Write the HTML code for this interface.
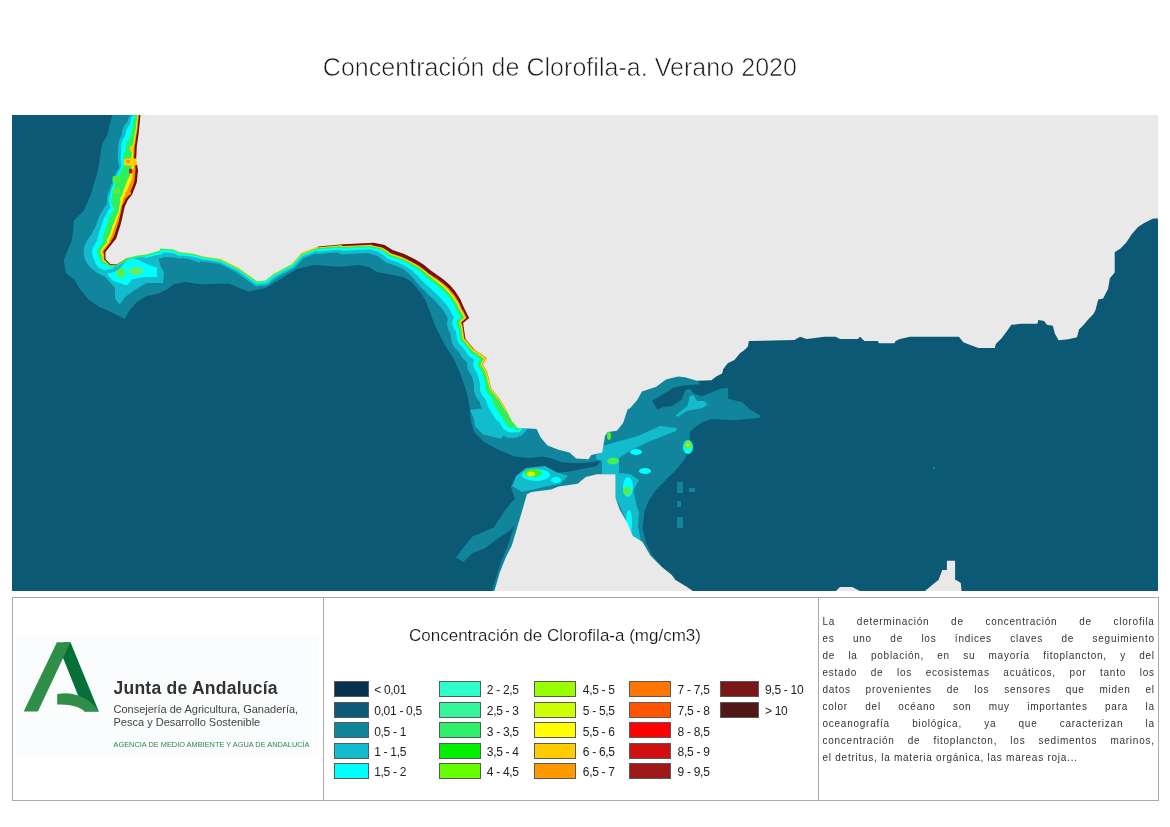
<!DOCTYPE html>
<html><head><meta charset="utf-8">
<style>
html,body{margin:0;padding:0;background:#fff;}
.txt{position:absolute;left:0;top:0;width:1170px;height:827px;will-change:transform;}
body{width:1170px;height:827px;position:relative;overflow:hidden;font-family:"Liberation Sans",sans-serif;-webkit-font-smoothing:antialiased;}
.t{will-change:transform;}
.title{position:absolute;left:322.8px;letter-spacing:0.04px;top:54.6px;font-size:25px;line-height:25px;color:#1a1a1a;white-space:nowrap;-webkit-text-stroke:0.6px #fff;}
#map{position:absolute;left:12px;top:115px;width:1146px;height:476px;}
.box{position:absolute;left:12px;top:597px;width:1145px;height:202px;border:1px solid #a9a9a9;}
.div1{position:absolute;left:323px;top:597px;width:1px;height:203px;background:#a9a9a9;}
.div2{position:absolute;left:818px;top:597px;width:1px;height:203px;background:#a9a9a9;}
.ltitle{position:absolute;left:409px;top:626.9px;font-size:17px;line-height:17px;color:#111;white-space:nowrap;-webkit-text-stroke:0.2px #fff;}
.sw{position:absolute;height:13.5px;border:1px solid #5a5a5a;box-sizing:content-box;}
.lb{position:absolute;font-size:12px;line-height:12px;letter-spacing:-0.3px;color:#222;white-space:nowrap;}
.pl{position:absolute;left:822.5px;width:331.5px;font-size:10px;line-height:10px;letter-spacing:0.75px;color:#333;display:flex;justify-content:space-between;white-space:nowrap;}
.pl span:last-child{margin-right:-0.75px;}
.pl.last{display:block;}
.jt{position:absolute;left:113.5px;top:679.6px;font-size:17.5px;line-height:17.5px;letter-spacing:0.25px;font-weight:bold;color:#333;white-space:nowrap;}
.cs{position:absolute;left:113.5px;font-size:11px;line-height:11px;color:#444;white-space:nowrap;}
.ag{position:absolute;left:113.5px;top:740.5px;font-size:7.4px;line-height:7.4px;color:#2f8552;white-space:nowrap;}
</style></head><body>
<div class="txt"><div class="title">Concentración de Clorofila-a. Verano 2020</div>
<svg id="map" width="1146" height="476" viewBox="0 0 1146 476">
<rect x="0" y="0" width="1146" height="476" fill="#0b5975"/>
<polygon points="100.6,0.0 98.2,7.0 95.7,19.0 90.9,27.7 89.7,31.3 86.0,55.5 82.4,67.6 78.8,79.7 76.5,85.0 72.2,95.0 61.9,105.5 60.0,125.0 56.4,133.4 51.6,145.3 54.0,158.5 62.4,164.5 67.1,172.9 76.7,184.8 87.5,192.0 98.3,196.8 107.8,201.6 112.6,204.0 117.4,195.6 124.6,187.2 134.2,181.2 146.1,178.8 155.7,174.1 161.7,169.3 173.6,166.9 188.0,169.3 208.9,168.8 217.5,168.8 229.5,173.9 236.5,176.5 253.6,173.1 270.7,162.9 284.4,154.3 301.5,150.0 327.1,151.8 347.7,150.0 357.9,152.6 364.8,156.9 381.8,160.3 391.0,162.0 399.0,166.3 409.2,178.2 414.1,186.4 422.8,210.3 431.5,227.7 442.4,245.1 449.0,260.4 455.5,280.0 458.0,295.0 459.0,306.0 462.0,317.0 471.2,326.5 478.0,345.0 488.0,365.0 498.3,370.1 502.8,383.7 493.7,394.3 481.7,412.4 460.5,421.5 453.0,430.5 443.9,442.6 451.4,447.1 460.5,438.1 472.6,433.5 484.7,424.5 498.3,415.4 502.8,409.4 496.0,430.0 488.0,450.0 480.0,476.0 548.0,476.0 588.0,365.0 628.0,445.0 649.9,452.1 640.3,440.5 634.4,428.9 630.6,413.4 632.5,396.0 636.4,386.3 644.1,374.7 653.8,365.0 665.4,353.4 673.2,343.7 677.8,325.0 677.8,317.2 682.6,312.4 689.8,307.6 699.4,304.1 722.1,305.3 735.3,304.1 747.2,302.9 748.4,300.5 737.7,294.5 730.5,287.3 716.1,283.7 716.1,273.0 708.0,269.0 688.0,269.0 685.0,265.0 678.0,255.0 638.0,185.0 438.0,85.0 188.0,35.0 138.0,0.0" fill="#11859b" />
<polygon points="457.6,305.9 461.7,316.9 471.2,326.5 486.3,334.7 502.7,341.5 516.4,342.9 530.1,341.5 538.3,342.9 550.6,347.6 564.2,348.3 577.9,347.6 588.9,345.6 584.8,351.1 571.1,353.8 557.4,356.5 543.7,357.9 532.8,352.4 521.8,352.4 509.5,357.9 502.7,366.1 498.6,371.6 493.0,377.0 458.0,365.0 448.0,325.0" fill="#0b5975" />
<polygon points="685.0,269.4 670.6,270.6 661.1,273.0 651.5,278.9 640.1,286.1 645.5,294.5 651.5,292.1 659.9,290.9 663.5,288.5 669.5,284.9 673.0,275.3 677.8,274.1 682.6,278.9 689.8,281.3 701.8,276.5 708.9,273.5 716.1,273.0 716.1,268.0 698.0,268.0" fill="#0b5975" />
<polygon points="76.7,125.0 73.1,140.6 77.9,148.9 83.9,157.3 93.5,162.1 103.0,172.9 103.0,183.6 107.8,189.6 112.6,182.4 122.2,175.3 134.2,168.1 150.9,168.1 152.1,157.3 148.5,151.3 146.1,141.8 173.6,143.0 188.0,147.7 188.0,115.0 98.0,115.0" fill="#13bccd" />
<polygon points="83.9,125.0 81.5,138.2 85.1,148.9 92.3,156.1 100.7,165.7 107.8,168.1 115.0,170.5 119.8,164.5 131.8,162.1 144.9,162.1 144.9,152.5 138.9,150.7 127.0,145.3 127.0,135.0 98.0,120.0" fill="#00ffff" />
<polygon points="458.0,295.0 461.7,303.2 463.0,311.4 471.2,319.6 489.0,323.7 493.1,318.2 502.7,314.1 498.0,290.0" fill="#13bccd" />
<polygon points="476.0,295.0 480.0,309.0 488.0,315.5 502.7,315.0 496.0,290.0" fill="#00ffff" />
<polygon points="584.0,340.0 588.0,334.0 591.0,331.0 604.0,327.0 626.0,321.0 648.0,311.0 665.0,313.0 664.0,316.0 636.0,327.0 619.0,335.0 607.0,343.0 607.0,358.0 618.0,359.0 627.0,365.0 621.5,375.0 624.4,390.0 627.0,397.0 626.0,412.0 629.0,426.0 638.0,440.0 628.0,441.0 615.0,407.0 603.5,382.0 603.5,359.0 590.0,359.0 590.0,346.0 584.0,344.0" fill="#13bccd" />
<polygon points="663.5,300.5 675.4,290.9 677.8,281.3 681.4,280.1 685.0,286.1 692.2,286.1 695.8,289.7 689.8,293.3 675.4,295.7 665.9,301.7" fill="#13bccd" />
<polygon points="500.0,371.0 504.0,361.0 514.0,353.0 533.0,351.0 544.0,357.0 556.0,361.0 548.0,369.0 536.0,371.0 523.0,374.0 510.0,377.0" fill="#13bccd" />
<rect x="665" y="367" width="6" height="11" fill="#11859b"/>
<rect x="665" y="386" width="4" height="6" fill="#11859b"/>
<rect x="665" y="402" width="6" height="11" fill="#11859b"/>
<rect x="677" y="373" width="6" height="4" fill="#11859b"/>
<rect x="921" y="352" width="2" height="2" fill="#11859b"/>
<ellipse cx="109" cy="158" rx="5" ry="5" fill="#55ee55"/>
<ellipse cx="124" cy="156" rx="7" ry="4" fill="#66ee66"/>
<ellipse cx="524" cy="360" rx="14" ry="6" fill="#00ffff"/>
<ellipse cx="521" cy="358" rx="9" ry="4" fill="#44ee22"/>
<ellipse cx="519" cy="359" rx="4" ry="2.5" fill="#ddee00"/>
<ellipse cx="544" cy="365" rx="5" ry="3" fill="#00ffff"/>
<ellipse cx="624" cy="337" rx="6" ry="3" fill="#00ffff"/>
<ellipse cx="633" cy="356" rx="6" ry="3" fill="#00ffff"/>
<ellipse cx="616" cy="372" rx="5" ry="10" fill="#00ffff"/>
<ellipse cx="617" cy="408" rx="3" ry="13" fill="#00ffff"/>
<ellipse cx="601" cy="346" rx="6" ry="3.5" fill="#44ee55"/>
<ellipse cx="615" cy="376" rx="4" ry="4" fill="#55ee44"/>
<ellipse cx="676" cy="332" rx="5" ry="7" fill="#00ffff"/>
<ellipse cx="676" cy="330" rx="3.5" ry="4" fill="#66ee22"/>
<ellipse cx="676" cy="330" rx="1.5" ry="1.5" fill="#ffee00"/>
<ellipse cx="493" cy="301" rx="4" ry="5" fill="#33ee33"/>
<ellipse cx="597" cy="321" rx="2" ry="4" fill="#55ee22"/>
<line x1="128.4" y1="0.0" x2="127.8" y2="7.0" stroke="#13bccd" stroke-width="18.6" stroke-linecap="round"/>
<line x1="127.8" y1="7.0" x2="126.6" y2="19.0" stroke="#13bccd" stroke-width="23.9" stroke-linecap="round"/>
<line x1="126.6" y1="19.0" x2="124.8" y2="31.3" stroke="#13bccd" stroke-width="33.3" stroke-linecap="round"/>
<line x1="124.8" y1="31.3" x2="124.2" y2="43.4" stroke="#13bccd" stroke-width="37.0" stroke-linecap="round"/>
<line x1="124.2" y1="43.4" x2="126.0" y2="55.5" stroke="#13bccd" stroke-width="33.3" stroke-linecap="round"/>
<line x1="126.0" y1="55.5" x2="124.8" y2="67.6" stroke="#13bccd" stroke-width="38.3" stroke-linecap="round"/>
<line x1="124.8" y1="67.6" x2="120.0" y2="79.7" stroke="#13bccd" stroke-width="46.0" stroke-linecap="round"/>
<line x1="120.0" y1="79.7" x2="115.8" y2="85.0" stroke="#13bccd" stroke-width="42.0" stroke-linecap="round"/>
<line x1="115.8" y1="85.0" x2="112.7" y2="91.8" stroke="#13bccd" stroke-width="34.0" stroke-linecap="round"/>
<line x1="112.7" y1="91.8" x2="110.0" y2="104.0" stroke="#13bccd" stroke-width="35.0" stroke-linecap="round"/>
<line x1="110.0" y1="104.0" x2="108.3" y2="110.8" stroke="#13bccd" stroke-width="42.3" stroke-linecap="round"/>
<line x1="108.3" y1="110.8" x2="104.2" y2="123.4" stroke="#13bccd" stroke-width="46.3" stroke-linecap="round"/>
<line x1="104.2" y1="123.4" x2="101.8" y2="126.5" stroke="#13bccd" stroke-width="46.5" stroke-linecap="round"/>
<line x1="101.8" y1="126.5" x2="93.5" y2="137.0" stroke="#13bccd" stroke-width="43.5" stroke-linecap="round"/>
<line x1="93.5" y1="137.0" x2="93.5" y2="144.1" stroke="#13bccd" stroke-width="21.0" stroke-linecap="round"/>
<line x1="115.0" y1="143.0" x2="125.8" y2="140.6" stroke="#13bccd" stroke-width="2.7" stroke-linecap="round"/>
<line x1="125.8" y1="140.6" x2="134.2" y2="139.4" stroke="#13bccd" stroke-width="8.0" stroke-linecap="round"/>
<line x1="134.2" y1="139.4" x2="147.3" y2="135.8" stroke="#13bccd" stroke-width="13.3" stroke-linecap="round"/>
<line x1="147.3" y1="135.8" x2="148.5" y2="133.4" stroke="#13bccd" stroke-width="15.4" stroke-linecap="round"/>
<line x1="148.5" y1="133.4" x2="161.7" y2="134.6" stroke="#13bccd" stroke-width="14.2" stroke-linecap="round"/>
<line x1="161.7" y1="134.6" x2="167.7" y2="137.0" stroke="#13bccd" stroke-width="13.0" stroke-linecap="round"/>
<line x1="167.7" y1="137.0" x2="179.6" y2="138.2" stroke="#13bccd" stroke-width="11.8" stroke-linecap="round"/>
<line x1="179.6" y1="138.2" x2="191.8" y2="141.4" stroke="#13bccd" stroke-width="10.6" stroke-linecap="round"/>
<line x1="191.8" y1="141.4" x2="208.9" y2="144.0" stroke="#13bccd" stroke-width="10.0" stroke-linecap="round"/>
<line x1="208.9" y1="144.0" x2="226.0" y2="152.5" stroke="#13bccd" stroke-width="10.0" stroke-linecap="round"/>
<line x1="226.0" y1="152.5" x2="238.3" y2="161.2" stroke="#13bccd" stroke-width="10.0" stroke-linecap="round"/>
<line x1="238.3" y1="161.2" x2="245.1" y2="166.3" stroke="#13bccd" stroke-width="10.0" stroke-linecap="round"/>
<line x1="245.1" y1="166.3" x2="253.6" y2="165.4" stroke="#13bccd" stroke-width="10.0" stroke-linecap="round"/>
<line x1="253.6" y1="165.4" x2="262.2" y2="158.6" stroke="#13bccd" stroke-width="10.0" stroke-linecap="round"/>
<line x1="262.2" y1="158.6" x2="279.3" y2="149.2" stroke="#13bccd" stroke-width="10.0" stroke-linecap="round"/>
<line x1="279.3" y1="149.2" x2="289.5" y2="138.1" stroke="#13bccd" stroke-width="10.0" stroke-linecap="round"/>
<line x1="289.5" y1="138.1" x2="306.5" y2="131.5" stroke="#13bccd" stroke-width="11.0" stroke-linecap="round"/>
<line x1="306.5" y1="131.5" x2="331.0" y2="129.2" stroke="#13bccd" stroke-width="15.0" stroke-linecap="round"/>
<line x1="331.0" y1="129.2" x2="361.8" y2="127.7" stroke="#13bccd" stroke-width="20.0" stroke-linecap="round"/>
<line x1="361.8" y1="127.7" x2="372.6" y2="130.0" stroke="#13bccd" stroke-width="23.5" stroke-linecap="round"/>
<line x1="372.6" y1="130.0" x2="380.6" y2="135.0" stroke="#13bccd" stroke-width="26.5" stroke-linecap="round"/>
<line x1="380.6" y1="135.0" x2="392.2" y2="138.9" stroke="#13bccd" stroke-width="28.0" stroke-linecap="round"/>
<line x1="392.2" y1="138.9" x2="403.4" y2="144.6" stroke="#13bccd" stroke-width="28.0" stroke-linecap="round"/>
<line x1="403.4" y1="144.6" x2="411.5" y2="149.5" stroke="#13bccd" stroke-width="30.0" stroke-linecap="round"/>
<line x1="411.5" y1="149.5" x2="418.8" y2="155.5" stroke="#13bccd" stroke-width="34.0" stroke-linecap="round"/>
<line x1="418.8" y1="155.5" x2="424.1" y2="159.2" stroke="#13bccd" stroke-width="37.3" stroke-linecap="round"/>
<line x1="424.1" y1="159.2" x2="430.9" y2="164.0" stroke="#13bccd" stroke-width="40.0" stroke-linecap="round"/>
<line x1="430.9" y1="164.0" x2="437.6" y2="169.8" stroke="#13bccd" stroke-width="42.7" stroke-linecap="round"/>
<line x1="437.6" y1="169.8" x2="443.4" y2="176.6" stroke="#13bccd" stroke-width="43.0" stroke-linecap="round"/>
<line x1="443.4" y1="176.6" x2="448.3" y2="184.3" stroke="#13bccd" stroke-width="41.0" stroke-linecap="round"/>
<line x1="448.3" y1="184.3" x2="452.1" y2="193.0" stroke="#13bccd" stroke-width="38.5" stroke-linecap="round"/>
<line x1="452.1" y1="193.0" x2="457.2" y2="203.1" stroke="#13bccd" stroke-width="35.5" stroke-linecap="round"/>
<line x1="457.2" y1="203.1" x2="451.1" y2="208.1" stroke="#13bccd" stroke-width="32.0" stroke-linecap="round"/>
<line x1="451.1" y1="208.1" x2="453.3" y2="223.4" stroke="#13bccd" stroke-width="28.0" stroke-linecap="round"/>
<line x1="453.3" y1="223.4" x2="462.0" y2="234.2" stroke="#13bccd" stroke-width="27.0" stroke-linecap="round"/>
<line x1="462.0" y1="234.2" x2="475.0" y2="243.0" stroke="#13bccd" stroke-width="29.0" stroke-linecap="round"/>
<line x1="475.0" y1="243.0" x2="470.7" y2="249.5" stroke="#13bccd" stroke-width="30.3" stroke-linecap="round"/>
<line x1="470.7" y1="249.5" x2="475.0" y2="256.0" stroke="#13bccd" stroke-width="31.0" stroke-linecap="round"/>
<line x1="475.0" y1="256.0" x2="479.4" y2="273.4" stroke="#13bccd" stroke-width="31.7" stroke-linecap="round"/>
<line x1="479.4" y1="273.4" x2="488.1" y2="284.3" stroke="#13bccd" stroke-width="35.0" stroke-linecap="round"/>
<line x1="488.1" y1="284.3" x2="494.5" y2="295.0" stroke="#13bccd" stroke-width="41.0" stroke-linecap="round"/>
<line x1="494.5" y1="295.0" x2="500.0" y2="306.0" stroke="#13bccd" stroke-width="34.0" stroke-linecap="round"/>
<line x1="500.0" y1="306.0" x2="505.4" y2="312.8" stroke="#13bccd" stroke-width="15.0" stroke-linecap="round"/>
<line x1="128.4" y1="0.0" x2="127.8" y2="7.0" stroke="#00ffff" stroke-width="14.7" stroke-linecap="round"/>
<line x1="127.8" y1="7.0" x2="126.6" y2="19.0" stroke="#00ffff" stroke-width="18.8" stroke-linecap="round"/>
<line x1="126.6" y1="19.0" x2="124.8" y2="31.3" stroke="#00ffff" stroke-width="25.6" stroke-linecap="round"/>
<line x1="124.8" y1="31.3" x2="124.2" y2="43.4" stroke="#00ffff" stroke-width="31.0" stroke-linecap="round"/>
<line x1="124.2" y1="43.4" x2="126.0" y2="55.5" stroke="#00ffff" stroke-width="30.5" stroke-linecap="round"/>
<line x1="126.0" y1="55.5" x2="124.8" y2="67.6" stroke="#00ffff" stroke-width="35.0" stroke-linecap="round"/>
<line x1="124.8" y1="67.6" x2="120.0" y2="79.7" stroke="#00ffff" stroke-width="42.5" stroke-linecap="round"/>
<line x1="120.0" y1="79.7" x2="115.8" y2="85.0" stroke="#00ffff" stroke-width="37.2" stroke-linecap="round"/>
<line x1="115.8" y1="85.0" x2="112.7" y2="91.8" stroke="#00ffff" stroke-width="25.8" stroke-linecap="round"/>
<line x1="112.7" y1="91.8" x2="110.0" y2="104.0" stroke="#00ffff" stroke-width="25.0" stroke-linecap="round"/>
<line x1="110.0" y1="104.0" x2="108.3" y2="110.8" stroke="#00ffff" stroke-width="32.5" stroke-linecap="round"/>
<line x1="108.3" y1="110.8" x2="104.2" y2="123.4" stroke="#00ffff" stroke-width="35.9" stroke-linecap="round"/>
<line x1="104.2" y1="123.4" x2="101.8" y2="126.5" stroke="#00ffff" stroke-width="33.4" stroke-linecap="round"/>
<line x1="101.8" y1="126.5" x2="93.5" y2="137.0" stroke="#00ffff" stroke-width="26.6" stroke-linecap="round"/>
<line x1="93.5" y1="137.0" x2="93.5" y2="144.1" stroke="#00ffff" stroke-width="21.6" stroke-linecap="round"/>
<line x1="93.5" y1="144.1" x2="98.3" y2="148.9" stroke="#00ffff" stroke-width="10.0" stroke-linecap="round"/>
<line x1="115.0" y1="143.0" x2="125.8" y2="140.6" stroke="#00ffff" stroke-width="1.3" stroke-linecap="round"/>
<line x1="125.8" y1="140.6" x2="134.2" y2="139.4" stroke="#00ffff" stroke-width="4.0" stroke-linecap="round"/>
<line x1="134.2" y1="139.4" x2="147.3" y2="135.8" stroke="#00ffff" stroke-width="6.7" stroke-linecap="round"/>
<line x1="147.3" y1="135.8" x2="148.5" y2="133.4" stroke="#00ffff" stroke-width="7.8" stroke-linecap="round"/>
<line x1="148.5" y1="133.4" x2="161.7" y2="134.6" stroke="#00ffff" stroke-width="7.4" stroke-linecap="round"/>
<line x1="161.7" y1="134.6" x2="167.7" y2="137.0" stroke="#00ffff" stroke-width="7.0" stroke-linecap="round"/>
<line x1="167.7" y1="137.0" x2="179.6" y2="138.2" stroke="#00ffff" stroke-width="6.6" stroke-linecap="round"/>
<line x1="179.6" y1="138.2" x2="191.8" y2="141.4" stroke="#00ffff" stroke-width="6.2" stroke-linecap="round"/>
<line x1="191.8" y1="141.4" x2="208.9" y2="144.0" stroke="#00ffff" stroke-width="6.0" stroke-linecap="round"/>
<line x1="208.9" y1="144.0" x2="226.0" y2="152.5" stroke="#00ffff" stroke-width="6.0" stroke-linecap="round"/>
<line x1="226.0" y1="152.5" x2="238.3" y2="161.2" stroke="#00ffff" stroke-width="5.8" stroke-linecap="round"/>
<line x1="238.3" y1="161.2" x2="245.1" y2="166.3" stroke="#00ffff" stroke-width="5.5" stroke-linecap="round"/>
<line x1="245.1" y1="166.3" x2="253.6" y2="165.4" stroke="#00ffff" stroke-width="5.2" stroke-linecap="round"/>
<line x1="253.6" y1="165.4" x2="262.2" y2="158.6" stroke="#00ffff" stroke-width="5.2" stroke-linecap="round"/>
<line x1="262.2" y1="158.6" x2="279.3" y2="149.2" stroke="#00ffff" stroke-width="5.5" stroke-linecap="round"/>
<line x1="279.3" y1="149.2" x2="289.5" y2="138.1" stroke="#00ffff" stroke-width="5.8" stroke-linecap="round"/>
<line x1="289.5" y1="138.1" x2="306.5" y2="131.5" stroke="#00ffff" stroke-width="7.0" stroke-linecap="round"/>
<line x1="306.5" y1="131.5" x2="331.0" y2="129.2" stroke="#00ffff" stroke-width="10.0" stroke-linecap="round"/>
<line x1="331.0" y1="129.2" x2="361.8" y2="127.7" stroke="#00ffff" stroke-width="13.0" stroke-linecap="round"/>
<line x1="361.8" y1="127.7" x2="372.6" y2="130.0" stroke="#00ffff" stroke-width="15.5" stroke-linecap="round"/>
<line x1="372.6" y1="130.0" x2="380.6" y2="135.0" stroke="#00ffff" stroke-width="18.5" stroke-linecap="round"/>
<line x1="380.6" y1="135.0" x2="392.2" y2="138.9" stroke="#00ffff" stroke-width="20.2" stroke-linecap="round"/>
<line x1="392.2" y1="138.9" x2="403.4" y2="144.6" stroke="#00ffff" stroke-width="20.8" stroke-linecap="round"/>
<line x1="403.4" y1="144.6" x2="411.5" y2="149.5" stroke="#00ffff" stroke-width="22.2" stroke-linecap="round"/>
<line x1="411.5" y1="149.5" x2="418.8" y2="155.5" stroke="#00ffff" stroke-width="24.8" stroke-linecap="round"/>
<line x1="418.8" y1="155.5" x2="424.1" y2="159.2" stroke="#00ffff" stroke-width="27.0" stroke-linecap="round"/>
<line x1="424.1" y1="159.2" x2="430.9" y2="164.0" stroke="#00ffff" stroke-width="29.0" stroke-linecap="round"/>
<line x1="430.9" y1="164.0" x2="437.6" y2="169.8" stroke="#00ffff" stroke-width="31.0" stroke-linecap="round"/>
<line x1="437.6" y1="169.8" x2="443.4" y2="176.6" stroke="#00ffff" stroke-width="31.0" stroke-linecap="round"/>
<line x1="443.4" y1="176.6" x2="448.3" y2="184.3" stroke="#00ffff" stroke-width="29.0" stroke-linecap="round"/>
<line x1="448.3" y1="184.3" x2="452.1" y2="193.0" stroke="#00ffff" stroke-width="27.0" stroke-linecap="round"/>
<line x1="452.1" y1="193.0" x2="457.2" y2="203.1" stroke="#00ffff" stroke-width="25.0" stroke-linecap="round"/>
<line x1="457.2" y1="203.1" x2="451.1" y2="208.1" stroke="#00ffff" stroke-width="21.5" stroke-linecap="round"/>
<line x1="451.1" y1="208.1" x2="453.3" y2="223.4" stroke="#00ffff" stroke-width="16.5" stroke-linecap="round"/>
<line x1="453.3" y1="223.4" x2="462.0" y2="234.2" stroke="#00ffff" stroke-width="15.0" stroke-linecap="round"/>
<line x1="462.0" y1="234.2" x2="475.0" y2="243.0" stroke="#00ffff" stroke-width="17.0" stroke-linecap="round"/>
<line x1="475.0" y1="243.0" x2="470.7" y2="249.5" stroke="#00ffff" stroke-width="18.3" stroke-linecap="round"/>
<line x1="470.7" y1="249.5" x2="475.0" y2="256.0" stroke="#00ffff" stroke-width="19.0" stroke-linecap="round"/>
<line x1="475.0" y1="256.0" x2="479.4" y2="273.4" stroke="#00ffff" stroke-width="19.7" stroke-linecap="round"/>
<line x1="479.4" y1="273.4" x2="488.1" y2="284.3" stroke="#00ffff" stroke-width="23.0" stroke-linecap="round"/>
<line x1="488.1" y1="284.3" x2="494.5" y2="295.0" stroke="#00ffff" stroke-width="28.0" stroke-linecap="round"/>
<line x1="494.5" y1="295.0" x2="500.0" y2="306.0" stroke="#00ffff" stroke-width="23.0" stroke-linecap="round"/>
<line x1="500.0" y1="306.0" x2="505.4" y2="312.8" stroke="#00ffff" stroke-width="9.5" stroke-linecap="round"/>
<line x1="128.4" y1="0.0" x2="127.8" y2="7.0" stroke="#2ef05c" stroke-width="10.8" stroke-linecap="round"/>
<line x1="127.8" y1="7.0" x2="126.6" y2="19.0" stroke="#2ef05c" stroke-width="13.1" stroke-linecap="round"/>
<line x1="126.6" y1="19.0" x2="124.8" y2="31.3" stroke="#2ef05c" stroke-width="15.9" stroke-linecap="round"/>
<line x1="124.8" y1="31.3" x2="124.2" y2="43.4" stroke="#2ef05c" stroke-width="21.7" stroke-linecap="round"/>
<line x1="124.2" y1="43.4" x2="126.0" y2="55.5" stroke="#2ef05c" stroke-width="25.4" stroke-linecap="round"/>
<line x1="126.0" y1="55.5" x2="124.8" y2="67.6" stroke="#2ef05c" stroke-width="31.4" stroke-linecap="round"/>
<line x1="124.8" y1="67.6" x2="120.0" y2="79.7" stroke="#2ef05c" stroke-width="39.0" stroke-linecap="round"/>
<line x1="120.0" y1="79.7" x2="115.8" y2="85.0" stroke="#2ef05c" stroke-width="33.0" stroke-linecap="round"/>
<line x1="115.8" y1="85.0" x2="112.7" y2="91.8" stroke="#2ef05c" stroke-width="19.0" stroke-linecap="round"/>
<line x1="112.7" y1="91.8" x2="110.0" y2="104.0" stroke="#2ef05c" stroke-width="17.0" stroke-linecap="round"/>
<line x1="110.0" y1="104.0" x2="108.3" y2="110.8" stroke="#2ef05c" stroke-width="24.6" stroke-linecap="round"/>
<line x1="108.3" y1="110.8" x2="104.2" y2="123.4" stroke="#2ef05c" stroke-width="26.2" stroke-linecap="round"/>
<line x1="104.2" y1="123.4" x2="101.8" y2="126.5" stroke="#2ef05c" stroke-width="22.3" stroke-linecap="round"/>
<line x1="101.8" y1="126.5" x2="93.5" y2="137.0" stroke="#2ef05c" stroke-width="16.5" stroke-linecap="round"/>
<line x1="93.5" y1="137.0" x2="93.5" y2="144.1" stroke="#2ef05c" stroke-width="10.8" stroke-linecap="round"/>
<line x1="93.5" y1="144.1" x2="98.3" y2="148.9" stroke="#2ef05c" stroke-width="6.0" stroke-linecap="round"/>
<line x1="98.3" y1="148.9" x2="104.2" y2="149.5" stroke="#2ef05c" stroke-width="4.0" stroke-linecap="round"/>
<line x1="104.2" y1="149.5" x2="115.0" y2="143.0" stroke="#2ef05c" stroke-width="4.0" stroke-linecap="round"/>
<line x1="115.0" y1="143.0" x2="125.8" y2="140.6" stroke="#2ef05c" stroke-width="3.8" stroke-linecap="round"/>
<line x1="125.8" y1="140.6" x2="134.2" y2="139.4" stroke="#2ef05c" stroke-width="3.5" stroke-linecap="round"/>
<line x1="134.2" y1="139.4" x2="147.3" y2="135.8" stroke="#2ef05c" stroke-width="3.2" stroke-linecap="round"/>
<line x1="147.3" y1="135.8" x2="148.5" y2="133.4" stroke="#2ef05c" stroke-width="3.0" stroke-linecap="round"/>
<line x1="148.5" y1="133.4" x2="161.7" y2="134.6" stroke="#2ef05c" stroke-width="3.0" stroke-linecap="round"/>
<line x1="161.7" y1="134.6" x2="167.7" y2="137.0" stroke="#2ef05c" stroke-width="3.0" stroke-linecap="round"/>
<line x1="167.7" y1="137.0" x2="179.6" y2="138.2" stroke="#2ef05c" stroke-width="3.0" stroke-linecap="round"/>
<line x1="179.6" y1="138.2" x2="191.8" y2="141.4" stroke="#2ef05c" stroke-width="3.0" stroke-linecap="round"/>
<line x1="191.8" y1="141.4" x2="208.9" y2="144.0" stroke="#2ef05c" stroke-width="3.2" stroke-linecap="round"/>
<line x1="208.9" y1="144.0" x2="226.0" y2="152.5" stroke="#2ef05c" stroke-width="3.8" stroke-linecap="round"/>
<line x1="226.0" y1="152.5" x2="238.3" y2="161.2" stroke="#2ef05c" stroke-width="3.7" stroke-linecap="round"/>
<line x1="238.3" y1="161.2" x2="245.1" y2="166.3" stroke="#2ef05c" stroke-width="3.2" stroke-linecap="round"/>
<line x1="245.1" y1="166.3" x2="253.6" y2="165.4" stroke="#2ef05c" stroke-width="2.7" stroke-linecap="round"/>
<line x1="253.6" y1="165.4" x2="262.2" y2="158.6" stroke="#2ef05c" stroke-width="2.7" stroke-linecap="round"/>
<line x1="262.2" y1="158.6" x2="279.3" y2="149.2" stroke="#2ef05c" stroke-width="3.2" stroke-linecap="round"/>
<line x1="279.3" y1="149.2" x2="289.5" y2="138.1" stroke="#2ef05c" stroke-width="3.7" stroke-linecap="round"/>
<line x1="289.5" y1="138.1" x2="306.5" y2="131.5" stroke="#2ef05c" stroke-width="4.5" stroke-linecap="round"/>
<line x1="306.5" y1="131.5" x2="331.0" y2="129.2" stroke="#2ef05c" stroke-width="6.0" stroke-linecap="round"/>
<line x1="331.0" y1="129.2" x2="361.8" y2="127.7" stroke="#2ef05c" stroke-width="8.5" stroke-linecap="round"/>
<line x1="361.8" y1="127.7" x2="372.6" y2="130.0" stroke="#2ef05c" stroke-width="11.0" stroke-linecap="round"/>
<line x1="372.6" y1="130.0" x2="380.6" y2="135.0" stroke="#2ef05c" stroke-width="13.0" stroke-linecap="round"/>
<line x1="380.6" y1="135.0" x2="392.2" y2="138.9" stroke="#2ef05c" stroke-width="14.0" stroke-linecap="round"/>
<line x1="392.2" y1="138.9" x2="403.4" y2="144.6" stroke="#2ef05c" stroke-width="14.0" stroke-linecap="round"/>
<line x1="403.4" y1="144.6" x2="411.5" y2="149.5" stroke="#2ef05c" stroke-width="14.5" stroke-linecap="round"/>
<line x1="411.5" y1="149.5" x2="418.8" y2="155.5" stroke="#2ef05c" stroke-width="15.5" stroke-linecap="round"/>
<line x1="418.8" y1="155.5" x2="424.1" y2="159.2" stroke="#2ef05c" stroke-width="16.3" stroke-linecap="round"/>
<line x1="424.1" y1="159.2" x2="430.9" y2="164.0" stroke="#2ef05c" stroke-width="17.0" stroke-linecap="round"/>
<line x1="430.9" y1="164.0" x2="437.6" y2="169.8" stroke="#2ef05c" stroke-width="17.7" stroke-linecap="round"/>
<line x1="437.6" y1="169.8" x2="443.4" y2="176.6" stroke="#2ef05c" stroke-width="17.5" stroke-linecap="round"/>
<line x1="443.4" y1="176.6" x2="448.3" y2="184.3" stroke="#2ef05c" stroke-width="16.5" stroke-linecap="round"/>
<line x1="448.3" y1="184.3" x2="452.1" y2="193.0" stroke="#2ef05c" stroke-width="15.8" stroke-linecap="round"/>
<line x1="452.1" y1="193.0" x2="457.2" y2="203.1" stroke="#2ef05c" stroke-width="15.2" stroke-linecap="round"/>
<line x1="457.2" y1="203.1" x2="451.1" y2="208.1" stroke="#2ef05c" stroke-width="13.5" stroke-linecap="round"/>
<line x1="451.1" y1="208.1" x2="453.3" y2="223.4" stroke="#2ef05c" stroke-width="10.5" stroke-linecap="round"/>
<line x1="453.3" y1="223.4" x2="462.0" y2="234.2" stroke="#2ef05c" stroke-width="9.2" stroke-linecap="round"/>
<line x1="462.0" y1="234.2" x2="475.0" y2="243.0" stroke="#2ef05c" stroke-width="9.8" stroke-linecap="round"/>
<line x1="475.0" y1="243.0" x2="470.7" y2="249.5" stroke="#2ef05c" stroke-width="10.0" stroke-linecap="round"/>
<line x1="470.7" y1="249.5" x2="475.0" y2="256.0" stroke="#2ef05c" stroke-width="10.0" stroke-linecap="round"/>
<line x1="475.0" y1="256.0" x2="479.4" y2="273.4" stroke="#2ef05c" stroke-width="10.0" stroke-linecap="round"/>
<line x1="479.4" y1="273.4" x2="488.1" y2="284.3" stroke="#2ef05c" stroke-width="12.0" stroke-linecap="round"/>
<line x1="488.1" y1="284.3" x2="494.5" y2="295.0" stroke="#2ef05c" stroke-width="16.0" stroke-linecap="round"/>
<line x1="494.5" y1="295.0" x2="500.0" y2="306.0" stroke="#2ef05c" stroke-width="14.0" stroke-linecap="round"/>
<line x1="500.0" y1="306.0" x2="505.4" y2="312.8" stroke="#2ef05c" stroke-width="5.5" stroke-linecap="round"/>
<line x1="128.4" y1="0.0" x2="127.8" y2="7.0" stroke="#ffee00" stroke-width="6.0" stroke-linecap="round"/>
<line x1="127.8" y1="7.0" x2="126.6" y2="19.0" stroke="#ffee00" stroke-width="6.5" stroke-linecap="round"/>
<line x1="126.6" y1="19.0" x2="124.8" y2="31.3" stroke="#ffee00" stroke-width="7.5" stroke-linecap="round"/>
<line x1="124.8" y1="31.3" x2="124.2" y2="43.4" stroke="#ffee00" stroke-width="9.0" stroke-linecap="round"/>
<line x1="124.2" y1="43.4" x2="126.0" y2="55.5" stroke="#ffee00" stroke-width="10.0" stroke-linecap="round"/>
<line x1="126.0" y1="55.5" x2="124.8" y2="67.6" stroke="#ffee00" stroke-width="15.0" stroke-linecap="round"/>
<line x1="124.8" y1="67.6" x2="120.0" y2="79.7" stroke="#ffee00" stroke-width="19.0" stroke-linecap="round"/>
<line x1="120.0" y1="79.7" x2="115.8" y2="85.0" stroke="#ffee00" stroke-width="15.5" stroke-linecap="round"/>
<line x1="115.8" y1="85.0" x2="112.7" y2="91.8" stroke="#ffee00" stroke-width="10.5" stroke-linecap="round"/>
<line x1="112.7" y1="91.8" x2="110.0" y2="104.0" stroke="#ffee00" stroke-width="10.0" stroke-linecap="round"/>
<line x1="110.0" y1="104.0" x2="108.3" y2="110.8" stroke="#ffee00" stroke-width="12.8" stroke-linecap="round"/>
<line x1="108.3" y1="110.8" x2="104.2" y2="123.4" stroke="#ffee00" stroke-width="14.5" stroke-linecap="round"/>
<line x1="104.2" y1="123.4" x2="101.8" y2="126.5" stroke="#ffee00" stroke-width="13.6" stroke-linecap="round"/>
<line x1="101.8" y1="126.5" x2="93.5" y2="137.0" stroke="#ffee00" stroke-width="9.8" stroke-linecap="round"/>
<line x1="93.5" y1="137.0" x2="93.5" y2="144.1" stroke="#ffee00" stroke-width="6.0" stroke-linecap="round"/>
<line x1="93.5" y1="144.1" x2="98.3" y2="148.9" stroke="#ffee00" stroke-width="3.0" stroke-linecap="round"/>
<line x1="98.3" y1="148.9" x2="104.2" y2="149.5" stroke="#ffee00" stroke-width="1.5" stroke-linecap="round"/>
<line x1="104.2" y1="149.5" x2="115.0" y2="143.0" stroke="#ffee00" stroke-width="0.5" stroke-linecap="round"/>
<line x1="161.7" y1="134.6" x2="167.7" y2="137.0" stroke="#ffee00" stroke-width="0.5" stroke-linecap="round"/>
<line x1="167.7" y1="137.0" x2="179.6" y2="138.2" stroke="#ffee00" stroke-width="0.7" stroke-linecap="round"/>
<line x1="179.6" y1="138.2" x2="191.8" y2="141.4" stroke="#ffee00" stroke-width="0.9" stroke-linecap="round"/>
<line x1="191.8" y1="141.4" x2="208.9" y2="144.0" stroke="#ffee00" stroke-width="1.1" stroke-linecap="round"/>
<line x1="208.9" y1="144.0" x2="226.0" y2="152.5" stroke="#ffee00" stroke-width="1.5" stroke-linecap="round"/>
<line x1="226.0" y1="152.5" x2="238.3" y2="161.2" stroke="#ffee00" stroke-width="1.3" stroke-linecap="round"/>
<line x1="238.3" y1="161.2" x2="245.1" y2="166.3" stroke="#ffee00" stroke-width="0.8" stroke-linecap="round"/>
<line x1="262.2" y1="158.6" x2="279.3" y2="149.2" stroke="#ffee00" stroke-width="0.8" stroke-linecap="round"/>
<line x1="279.3" y1="149.2" x2="289.5" y2="138.1" stroke="#ffee00" stroke-width="1.3" stroke-linecap="round"/>
<line x1="289.5" y1="138.1" x2="306.5" y2="131.5" stroke="#ffee00" stroke-width="2.0" stroke-linecap="round"/>
<line x1="306.5" y1="131.5" x2="331.0" y2="129.2" stroke="#ffee00" stroke-width="3.2" stroke-linecap="round"/>
<line x1="331.0" y1="129.2" x2="361.8" y2="127.7" stroke="#ffee00" stroke-width="5.5" stroke-linecap="round"/>
<line x1="361.8" y1="127.7" x2="372.6" y2="130.0" stroke="#ffee00" stroke-width="7.8" stroke-linecap="round"/>
<line x1="372.6" y1="130.0" x2="380.6" y2="135.0" stroke="#ffee00" stroke-width="9.2" stroke-linecap="round"/>
<line x1="380.6" y1="135.0" x2="392.2" y2="138.9" stroke="#ffee00" stroke-width="10.0" stroke-linecap="round"/>
<line x1="392.2" y1="138.9" x2="403.4" y2="144.6" stroke="#ffee00" stroke-width="10.0" stroke-linecap="round"/>
<line x1="403.4" y1="144.6" x2="411.5" y2="149.5" stroke="#ffee00" stroke-width="10.0" stroke-linecap="round"/>
<line x1="411.5" y1="149.5" x2="418.8" y2="155.5" stroke="#ffee00" stroke-width="10.0" stroke-linecap="round"/>
<line x1="418.8" y1="155.5" x2="424.1" y2="159.2" stroke="#ffee00" stroke-width="10.3" stroke-linecap="round"/>
<line x1="424.1" y1="159.2" x2="430.9" y2="164.0" stroke="#ffee00" stroke-width="11.0" stroke-linecap="round"/>
<line x1="430.9" y1="164.0" x2="437.6" y2="169.8" stroke="#ffee00" stroke-width="11.7" stroke-linecap="round"/>
<line x1="437.6" y1="169.8" x2="443.4" y2="176.6" stroke="#ffee00" stroke-width="11.5" stroke-linecap="round"/>
<line x1="443.4" y1="176.6" x2="448.3" y2="184.3" stroke="#ffee00" stroke-width="10.5" stroke-linecap="round"/>
<line x1="448.3" y1="184.3" x2="452.1" y2="193.0" stroke="#ffee00" stroke-width="9.5" stroke-linecap="round"/>
<line x1="452.1" y1="193.0" x2="457.2" y2="203.1" stroke="#ffee00" stroke-width="8.5" stroke-linecap="round"/>
<line x1="457.2" y1="203.1" x2="451.1" y2="208.1" stroke="#ffee00" stroke-width="7.0" stroke-linecap="round"/>
<line x1="451.1" y1="208.1" x2="453.3" y2="223.4" stroke="#ffee00" stroke-width="5.0" stroke-linecap="round"/>
<line x1="453.3" y1="223.4" x2="462.0" y2="234.2" stroke="#ffee00" stroke-width="4.0" stroke-linecap="round"/>
<line x1="462.0" y1="234.2" x2="475.0" y2="243.0" stroke="#ffee00" stroke-width="4.0" stroke-linecap="round"/>
<line x1="475.0" y1="243.0" x2="470.7" y2="249.5" stroke="#ffee00" stroke-width="3.8" stroke-linecap="round"/>
<line x1="470.7" y1="249.5" x2="475.0" y2="256.0" stroke="#ffee00" stroke-width="3.5" stroke-linecap="round"/>
<line x1="475.0" y1="256.0" x2="479.4" y2="273.4" stroke="#ffee00" stroke-width="3.2" stroke-linecap="round"/>
<line x1="479.4" y1="273.4" x2="488.1" y2="284.3" stroke="#ffee00" stroke-width="3.0" stroke-linecap="round"/>
<line x1="488.1" y1="284.3" x2="494.5" y2="295.0" stroke="#ffee00" stroke-width="2.5" stroke-linecap="round"/>
<line x1="494.5" y1="295.0" x2="500.0" y2="306.0" stroke="#ffee00" stroke-width="1.0" stroke-linecap="round"/>
<line x1="128.4" y1="0.0" x2="127.8" y2="7.0" stroke="#ff8c00" stroke-width="4.5" stroke-linecap="round"/>
<line x1="127.8" y1="7.0" x2="126.6" y2="19.0" stroke="#ff8c00" stroke-width="4.9" stroke-linecap="round"/>
<line x1="126.6" y1="19.0" x2="124.8" y2="31.3" stroke="#ff8c00" stroke-width="5.6" stroke-linecap="round"/>
<line x1="124.8" y1="31.3" x2="124.2" y2="43.4" stroke="#ff8c00" stroke-width="6.6" stroke-linecap="round"/>
<line x1="124.2" y1="43.4" x2="126.0" y2="55.5" stroke="#ff8c00" stroke-width="7.1" stroke-linecap="round"/>
<line x1="126.0" y1="55.5" x2="124.8" y2="67.6" stroke="#ff8c00" stroke-width="10.0" stroke-linecap="round"/>
<line x1="124.8" y1="67.6" x2="120.0" y2="79.7" stroke="#ff8c00" stroke-width="12.0" stroke-linecap="round"/>
<line x1="120.0" y1="79.7" x2="115.8" y2="85.0" stroke="#ff8c00" stroke-width="9.9" stroke-linecap="round"/>
<line x1="115.8" y1="85.0" x2="112.7" y2="91.8" stroke="#ff8c00" stroke-width="7.6" stroke-linecap="round"/>
<line x1="112.7" y1="91.8" x2="110.0" y2="104.0" stroke="#ff8c00" stroke-width="7.5" stroke-linecap="round"/>
<line x1="110.0" y1="104.0" x2="108.3" y2="110.8" stroke="#ff8c00" stroke-width="8.9" stroke-linecap="round"/>
<line x1="108.3" y1="110.8" x2="104.2" y2="123.4" stroke="#ff8c00" stroke-width="10.0" stroke-linecap="round"/>
<line x1="104.2" y1="123.4" x2="101.8" y2="126.5" stroke="#ff8c00" stroke-width="9.4" stroke-linecap="round"/>
<line x1="101.8" y1="126.5" x2="93.5" y2="137.0" stroke="#ff8c00" stroke-width="6.8" stroke-linecap="round"/>
<line x1="93.5" y1="137.0" x2="93.5" y2="144.1" stroke="#ff8c00" stroke-width="4.2" stroke-linecap="round"/>
<line x1="93.5" y1="144.1" x2="98.3" y2="148.9" stroke="#ff8c00" stroke-width="2.5" stroke-linecap="round"/>
<line x1="98.3" y1="148.9" x2="104.2" y2="149.5" stroke="#ff8c00" stroke-width="1.5" stroke-linecap="round"/>
<line x1="104.2" y1="149.5" x2="115.0" y2="143.0" stroke="#ff8c00" stroke-width="0.5" stroke-linecap="round"/>
<line x1="179.6" y1="138.2" x2="191.8" y2="141.4" stroke="#ff8c00" stroke-width="0.5" stroke-linecap="round"/>
<line x1="191.8" y1="141.4" x2="208.9" y2="144.0" stroke="#ff8c00" stroke-width="0.6" stroke-linecap="round"/>
<line x1="208.9" y1="144.0" x2="226.0" y2="152.5" stroke="#ff8c00" stroke-width="0.7" stroke-linecap="round"/>
<line x1="226.0" y1="152.5" x2="238.3" y2="161.2" stroke="#ff8c00" stroke-width="0.7" stroke-linecap="round"/>
<line x1="238.3" y1="161.2" x2="245.1" y2="166.3" stroke="#ff8c00" stroke-width="0.4" stroke-linecap="round"/>
<line x1="279.3" y1="149.2" x2="289.5" y2="138.1" stroke="#ff8c00" stroke-width="0.7" stroke-linecap="round"/>
<line x1="289.5" y1="138.1" x2="306.5" y2="131.5" stroke="#ff8c00" stroke-width="1.1" stroke-linecap="round"/>
<line x1="306.5" y1="131.5" x2="331.0" y2="129.2" stroke="#ff8c00" stroke-width="2.2" stroke-linecap="round"/>
<line x1="331.0" y1="129.2" x2="361.8" y2="127.7" stroke="#ff8c00" stroke-width="4.5" stroke-linecap="round"/>
<line x1="361.8" y1="127.7" x2="372.6" y2="130.0" stroke="#ff8c00" stroke-width="6.6" stroke-linecap="round"/>
<line x1="372.6" y1="130.0" x2="380.6" y2="135.0" stroke="#ff8c00" stroke-width="7.9" stroke-linecap="round"/>
<line x1="380.6" y1="135.0" x2="392.2" y2="138.9" stroke="#ff8c00" stroke-width="8.5" stroke-linecap="round"/>
<line x1="392.2" y1="138.9" x2="403.4" y2="144.6" stroke="#ff8c00" stroke-width="8.5" stroke-linecap="round"/>
<line x1="403.4" y1="144.6" x2="411.5" y2="149.5" stroke="#ff8c00" stroke-width="8.5" stroke-linecap="round"/>
<line x1="411.5" y1="149.5" x2="418.8" y2="155.5" stroke="#ff8c00" stroke-width="8.5" stroke-linecap="round"/>
<line x1="418.8" y1="155.5" x2="424.1" y2="159.2" stroke="#ff8c00" stroke-width="8.6" stroke-linecap="round"/>
<line x1="424.1" y1="159.2" x2="430.9" y2="164.0" stroke="#ff8c00" stroke-width="8.8" stroke-linecap="round"/>
<line x1="430.9" y1="164.0" x2="437.6" y2="169.8" stroke="#ff8c00" stroke-width="8.9" stroke-linecap="round"/>
<line x1="437.6" y1="169.8" x2="443.4" y2="176.6" stroke="#ff8c00" stroke-width="8.6" stroke-linecap="round"/>
<line x1="443.4" y1="176.6" x2="448.3" y2="184.3" stroke="#ff8c00" stroke-width="7.9" stroke-linecap="round"/>
<line x1="448.3" y1="184.3" x2="452.1" y2="193.0" stroke="#ff8c00" stroke-width="7.1" stroke-linecap="round"/>
<line x1="452.1" y1="193.0" x2="457.2" y2="203.1" stroke="#ff8c00" stroke-width="6.4" stroke-linecap="round"/>
<line x1="457.2" y1="203.1" x2="451.1" y2="208.1" stroke="#ff8c00" stroke-width="5.1" stroke-linecap="round"/>
<line x1="451.1" y1="208.1" x2="453.3" y2="223.4" stroke="#ff8c00" stroke-width="3.4" stroke-linecap="round"/>
<line x1="453.3" y1="223.4" x2="462.0" y2="234.2" stroke="#ff8c00" stroke-width="2.4" stroke-linecap="round"/>
<line x1="462.0" y1="234.2" x2="475.0" y2="243.0" stroke="#ff8c00" stroke-width="2.1" stroke-linecap="round"/>
<line x1="475.0" y1="243.0" x2="470.7" y2="249.5" stroke="#ff8c00" stroke-width="1.9" stroke-linecap="round"/>
<line x1="470.7" y1="249.5" x2="475.0" y2="256.0" stroke="#ff8c00" stroke-width="1.8" stroke-linecap="round"/>
<line x1="475.0" y1="256.0" x2="479.4" y2="273.4" stroke="#ff8c00" stroke-width="1.6" stroke-linecap="round"/>
<line x1="479.4" y1="273.4" x2="488.1" y2="284.3" stroke="#ff8c00" stroke-width="1.5" stroke-linecap="round"/>
<line x1="488.1" y1="284.3" x2="494.5" y2="295.0" stroke="#ff8c00" stroke-width="1.2" stroke-linecap="round"/>
<line x1="494.5" y1="295.0" x2="500.0" y2="306.0" stroke="#ff8c00" stroke-width="0.5" stroke-linecap="round"/>
<line x1="128.4" y1="0.0" x2="127.8" y2="7.0" stroke="#751210" stroke-width="3.0" stroke-linecap="round"/>
<line x1="127.8" y1="7.0" x2="126.6" y2="19.0" stroke="#751210" stroke-width="3.2" stroke-linecap="round"/>
<line x1="126.6" y1="19.0" x2="124.8" y2="31.3" stroke="#751210" stroke-width="3.8" stroke-linecap="round"/>
<line x1="124.8" y1="31.3" x2="124.2" y2="43.4" stroke="#751210" stroke-width="4.2" stroke-linecap="round"/>
<line x1="124.2" y1="43.4" x2="126.0" y2="55.5" stroke="#751210" stroke-width="4.2" stroke-linecap="round"/>
<line x1="126.0" y1="55.5" x2="124.8" y2="67.6" stroke="#751210" stroke-width="5.0" stroke-linecap="round"/>
<line x1="124.8" y1="67.6" x2="120.0" y2="79.7" stroke="#751210" stroke-width="5.0" stroke-linecap="round"/>
<line x1="120.0" y1="79.7" x2="115.8" y2="85.0" stroke="#751210" stroke-width="4.2" stroke-linecap="round"/>
<line x1="115.8" y1="85.0" x2="112.7" y2="91.8" stroke="#751210" stroke-width="4.8" stroke-linecap="round"/>
<line x1="112.7" y1="91.8" x2="110.0" y2="104.0" stroke="#751210" stroke-width="5.0" stroke-linecap="round"/>
<line x1="110.0" y1="104.0" x2="108.3" y2="110.8" stroke="#751210" stroke-width="5.0" stroke-linecap="round"/>
<line x1="108.3" y1="110.8" x2="104.2" y2="123.4" stroke="#751210" stroke-width="5.5" stroke-linecap="round"/>
<line x1="104.2" y1="123.4" x2="101.8" y2="126.5" stroke="#751210" stroke-width="5.2" stroke-linecap="round"/>
<line x1="101.8" y1="126.5" x2="93.5" y2="137.0" stroke="#751210" stroke-width="3.8" stroke-linecap="round"/>
<line x1="93.5" y1="137.0" x2="93.5" y2="144.1" stroke="#751210" stroke-width="2.5" stroke-linecap="round"/>
<line x1="93.5" y1="144.1" x2="98.3" y2="148.9" stroke="#751210" stroke-width="2.0" stroke-linecap="round"/>
<line x1="98.3" y1="148.9" x2="104.2" y2="149.5" stroke="#751210" stroke-width="1.5" stroke-linecap="round"/>
<line x1="104.2" y1="149.5" x2="115.0" y2="143.0" stroke="#751210" stroke-width="0.5" stroke-linecap="round"/>
<line x1="306.5" y1="131.5" x2="331.0" y2="129.2" stroke="#751210" stroke-width="1.3" stroke-linecap="round"/>
<line x1="331.0" y1="129.2" x2="361.8" y2="127.7" stroke="#751210" stroke-width="3.5" stroke-linecap="round"/>
<line x1="361.8" y1="127.7" x2="372.6" y2="130.0" stroke="#751210" stroke-width="5.5" stroke-linecap="round"/>
<line x1="372.6" y1="130.0" x2="380.6" y2="135.0" stroke="#751210" stroke-width="6.5" stroke-linecap="round"/>
<line x1="380.6" y1="135.0" x2="392.2" y2="138.9" stroke="#751210" stroke-width="7.0" stroke-linecap="round"/>
<line x1="392.2" y1="138.9" x2="403.4" y2="144.6" stroke="#751210" stroke-width="7.0" stroke-linecap="round"/>
<line x1="403.4" y1="144.6" x2="411.5" y2="149.5" stroke="#751210" stroke-width="7.0" stroke-linecap="round"/>
<line x1="411.5" y1="149.5" x2="418.8" y2="155.5" stroke="#751210" stroke-width="7.0" stroke-linecap="round"/>
<line x1="418.8" y1="155.5" x2="424.1" y2="159.2" stroke="#751210" stroke-width="6.8" stroke-linecap="round"/>
<line x1="424.1" y1="159.2" x2="430.9" y2="164.0" stroke="#751210" stroke-width="6.5" stroke-linecap="round"/>
<line x1="430.9" y1="164.0" x2="437.6" y2="169.8" stroke="#751210" stroke-width="6.2" stroke-linecap="round"/>
<line x1="437.6" y1="169.8" x2="443.4" y2="176.6" stroke="#751210" stroke-width="5.8" stroke-linecap="round"/>
<line x1="443.4" y1="176.6" x2="448.3" y2="184.3" stroke="#751210" stroke-width="5.2" stroke-linecap="round"/>
<line x1="448.3" y1="184.3" x2="452.1" y2="193.0" stroke="#751210" stroke-width="4.8" stroke-linecap="round"/>
<line x1="452.1" y1="193.0" x2="457.2" y2="203.1" stroke="#751210" stroke-width="4.2" stroke-linecap="round"/>
<line x1="457.2" y1="203.1" x2="451.1" y2="208.1" stroke="#751210" stroke-width="3.2" stroke-linecap="round"/>
<line x1="451.1" y1="208.1" x2="453.3" y2="223.4" stroke="#751210" stroke-width="1.8" stroke-linecap="round"/>
<line x1="453.3" y1="223.4" x2="462.0" y2="234.2" stroke="#751210" stroke-width="0.8" stroke-linecap="round"/>
<rect x="112" y="43.5" width="13" height="7" rx="1.5" fill="#ffd000"/>
<rect x="114" y="45" width="4" height="3" rx="1.5" fill="#ff8c00"/>
<rect x="117" y="53.5" width="3.5" height="5" rx="1.5" fill="#c81010"/>
<rect x="101" y="72.5" width="7" height="6" rx="1.5" fill="#55f040"/>
<rect x="113" y="76.5" width="6" height="3.5" rx="1.5" fill="#ff9900"/>
<rect x="100.5" y="61" width="8" height="6.5" rx="1.5" fill="#44f040"/>
<rect x="118" y="31" width="3" height="6" rx="1.5" fill="#ffcc00"/>
<polygon points="128.4,0.0 127.8,7.0 126.6,19.0 124.8,31.3 124.2,43.4 126.0,55.5 124.8,67.6 120.0,79.7 115.8,85.0 112.7,91.8 110.0,104.0 108.3,110.8 104.2,123.4 101.8,126.5 93.5,137.0 93.5,144.1 98.3,148.9 104.2,149.5 115.0,143.0 125.8,140.6 134.2,139.4 147.3,135.8 148.5,133.4 161.7,134.6 167.7,137.0 179.6,138.2 191.8,141.4 208.9,144.0 226.0,152.5 238.3,161.2 245.1,166.3 253.6,165.4 262.2,158.6 279.3,149.2 289.5,138.1 306.5,131.5 331.0,129.2 361.8,127.7 372.6,130.0 380.6,135.0 392.2,138.9 403.4,144.6 411.5,149.5 418.8,155.5 424.1,159.2 430.9,164.0 437.6,169.8 443.4,176.6 448.3,184.3 452.1,193.0 457.2,203.1 451.1,208.1 453.3,223.4 462.0,234.2 475.0,243.0 470.7,249.5 475.0,256.0 479.4,273.4 488.1,284.3 494.5,295.0 500.0,306.0 505.4,312.8 524.6,314.1 528.7,322.4 535.5,330.6 546.5,334.7 557.4,337.4 564.2,343.5 576.5,344.2 579.3,340.1 590.2,337.4 593.0,321.0 595.7,316.9 604.9,315.8 611.1,308.1 615.7,294.2 618.0,293.3 625.2,284.9 630.0,276.5 644.3,271.8 653.9,264.6 665.9,261.6 673.0,262.2 685.0,265.8 699.4,265.2 704.2,261.6 710.1,258.6 711.3,253.9 715.8,248.3 722.4,245.0 728.0,238.3 732.4,235.0 735.8,231.7 736.9,226.1 782.4,225.0 788.0,221.7 794.7,223.9 812.4,221.7 823.6,221.7 828.0,223.9 845.8,223.9 848.0,221.7 852.4,226.1 865.8,226.1 866.9,228.3 882.4,228.3 883.6,226.1 888.0,223.9 898.0,221.7 946.9,221.7 951.3,227.2 955.7,229.1 966.4,233.0 982.8,233.0 983.8,229.1 989.6,223.3 995.4,215.6 999.3,209.8 1009.9,208.8 1025.4,208.8 1026.3,204.9 1032.1,205.9 1035.0,209.8 1040.8,210.7 1042.8,218.5 1046.6,225.2 1056.3,224.3 1065.0,222.3 1067.0,214.6 1071.8,209.8 1075.7,204.9 1081.5,199.1 1083.4,195.3 1086.3,184.6 1091.1,183.6 1096.0,174.0 1097.9,163.3 1102.7,157.5 1102.7,137.2 1108.5,133.4 1114.3,127.6 1120.1,118.8 1126.0,112.1 1131.8,108.2 1137.6,105.3 1141.4,103.4 1146.0,103.4 1146.0,0.0" fill="#e9e9e9" />
<polygon points="482.4,476.0 487.7,457.7 493.7,442.6 499.8,430.5 504.3,415.4 508.8,400.3 511.9,389.7 514.9,379.2 519.4,376.9 539.1,374.6 546.5,371.6 565.6,368.8 573.8,362.0 584.8,359.3 603.5,359.3 603.5,382.4 607.4,394.0 615.1,407.6 620.9,421.1 630.6,426.9 638.3,440.5 649.9,452.1 659.6,459.8 663.5,465.0 674.3,471.6 680.8,476.0" fill="#e9e9e9" />
<polygon points="824.0,476.0 828.0,472.0 840.0,472.0 848.0,476.0" fill="#e9e9e9" />
<polygon points="913.0,476.0 922.6,468.0 926.5,465.0 930.3,455.0 934.9,455.0 934.9,445.8 943.1,445.8 943.1,465.0 944.2,465.0 948.8,468.0 949.5,476.0" fill="#e9e9e9" />
</svg>
<div class="box"></div>
<div style="position:absolute;left:16px;top:634.5px;width:303px;height:120.5px;background:#fbfcfd"></div>
<div class="div1"></div>
<div class="div2"></div>
<svg width="120" height="760" viewBox="0 0 120 760" style="position:absolute;left:0;top:0">
<polygon points="64,642.2 70.5,642.2 98.8,711.6 84.6,711.6 77.6,694.2 63.4,658.8 60,655" fill="#067038"/>
<polygon points="23.7,711.6 56.9,642.2 70.5,642.2 37.9,711.6" fill="#2f8e48"/>

<path d="M57.2,694.2 C66,692 76,694 84,698 C90,701 95,706 98.8,711.6 L84.6,711.6 C80,707 72,704 57.2,704.5 Z" fill="#2f8e48"/>
</svg>
<div class="jt">Junta de Andalucía</div>
<div class="cs" style="top:703.8px">Consejería de Agricultura, Ganadería,</div>
<div class="cs" style="top:717.2px">Pesca y Desarrollo Sostenible</div>
<div class="ag">AGENCIA DE MEDIO AMBIENTE Y AGUA DE ANDALUCÍA</div>
<div class="ltitle">Concentración de Clorofila-a (mg/cm3)</div>
<div class="sw" style="left:334px;top:681.0px;width:33px;background:#08304f"></div>
<div class="lb" style="left:374.2px;top:684.1px">&lt; 0,01</div>
<div class="sw" style="left:334px;top:702.2px;width:33px;background:#0b5975"></div>
<div class="lb" style="left:374.2px;top:705.3px">0,01 - 0,5</div>
<div class="sw" style="left:334px;top:722.4px;width:33px;background:#11859b"></div>
<div class="lb" style="left:374.2px;top:725.5px">0,5 - 1</div>
<div class="sw" style="left:334px;top:743.2px;width:33px;background:#13bccd"></div>
<div class="lb" style="left:374.2px;top:746.3px">1 - 1,5</div>
<div class="sw" style="left:334px;top:763.2px;width:33px;background:#00ffff"></div>
<div class="lb" style="left:374.2px;top:766.3px">1,5 - 2</div>
<div class="sw" style="left:439.2px;top:681.0px;width:39.4px;background:#2effc8"></div>
<div class="lb" style="left:486.8px;top:684.1px">2 - 2,5</div>
<div class="sw" style="left:439.2px;top:702.2px;width:39.4px;background:#36f79c"></div>
<div class="lb" style="left:486.8px;top:705.3px">2,5 - 3</div>
<div class="sw" style="left:439.2px;top:722.4px;width:39.4px;background:#2ef06a"></div>
<div class="lb" style="left:486.8px;top:725.5px">3 - 3,5</div>
<div class="sw" style="left:439.2px;top:743.2px;width:39.4px;background:#00f000"></div>
<div class="lb" style="left:486.8px;top:746.3px">3,5 - 4</div>
<div class="sw" style="left:439.2px;top:763.2px;width:39.4px;background:#66ff00"></div>
<div class="lb" style="left:486.8px;top:766.3px">4 - 4,5</div>
<div class="sw" style="left:534.4px;top:681.0px;width:39.4px;background:#99ff00"></div>
<div class="lb" style="left:582.8px;top:684.1px">4,5 - 5</div>
<div class="sw" style="left:534.4px;top:702.2px;width:39.4px;background:#ccff00"></div>
<div class="lb" style="left:582.8px;top:705.3px">5 - 5,5</div>
<div class="sw" style="left:534.4px;top:722.4px;width:39.4px;background:#ffff00"></div>
<div class="lb" style="left:582.8px;top:725.5px">5,5 - 6</div>
<div class="sw" style="left:534.4px;top:743.2px;width:39.4px;background:#ffcc00"></div>
<div class="lb" style="left:582.8px;top:746.3px">6 - 6,5</div>
<div class="sw" style="left:534.4px;top:763.2px;width:39.4px;background:#ff9900"></div>
<div class="lb" style="left:582.8px;top:766.3px">6,5 - 7</div>
<div class="sw" style="left:629.3px;top:681.0px;width:39.3px;background:#ff7700"></div>
<div class="lb" style="left:677.6px;top:684.1px">7 - 7,5</div>
<div class="sw" style="left:629.3px;top:702.2px;width:39.3px;background:#ff5500"></div>
<div class="lb" style="left:677.6px;top:705.3px">7,5 - 8</div>
<div class="sw" style="left:629.3px;top:722.4px;width:39.3px;background:#ff0000"></div>
<div class="lb" style="left:677.6px;top:725.5px">8 - 8,5</div>
<div class="sw" style="left:629.3px;top:743.2px;width:39.3px;background:#d01010"></div>
<div class="lb" style="left:677.6px;top:746.3px">8,5 - 9</div>
<div class="sw" style="left:629.3px;top:763.2px;width:39.3px;background:#a01818"></div>
<div class="lb" style="left:677.6px;top:766.3px">9 - 9,5</div>
<div class="sw" style="left:720px;top:681.0px;width:37px;background:#7a1818"></div>
<div class="lb" style="left:765px;top:684.1px">9,5 - 10</div>
<div class="sw" style="left:720px;top:702.2px;width:37px;background:#521818"></div>
<div class="lb" style="left:765px;top:705.3px">&gt; 10</div>
<div class="pl" style="top:617.00px"><span>La</span><span>determinación</span><span>de</span><span>concentración</span><span>de</span><span>clorofila</span></div>
<div class="pl" style="top:633.95px"><span>es</span><span>uno</span><span>de</span><span>los</span><span>índices</span><span>claves</span><span>de</span><span>seguimiento</span></div>
<div class="pl" style="top:650.90px"><span>de</span><span>la</span><span>población,</span><span>en</span><span>su</span><span>mayoría</span><span>fitoplancton,</span><span>y</span><span>del</span></div>
<div class="pl" style="top:667.85px"><span>estado</span><span>de</span><span>los</span><span>ecosistemas</span><span>acuáticos,</span><span>por</span><span>tanto</span><span>los</span></div>
<div class="pl" style="top:684.80px"><span>datos</span><span>provenientes</span><span>de</span><span>los</span><span>sensores</span><span>que</span><span>miden</span><span>el</span></div>
<div class="pl" style="top:701.75px"><span>color</span><span>del</span><span>océano</span><span>son</span><span>muy</span><span>importantes</span><span>para</span><span>la</span></div>
<div class="pl" style="top:718.70px"><span>oceanografía</span><span>biológica,</span><span>ya</span><span>que</span><span>caracterizan</span><span>la</span></div>
<div class="pl" style="top:735.65px"><span>concentración</span><span>de</span><span>fitoplancton,</span><span>los</span><span>sedimentos</span><span>marinos,</span></div>
<div class="pl last" style="top:752.60px">el detritus, la materia orgánica, las mareas roja...</div>
</div>
</body></html>
